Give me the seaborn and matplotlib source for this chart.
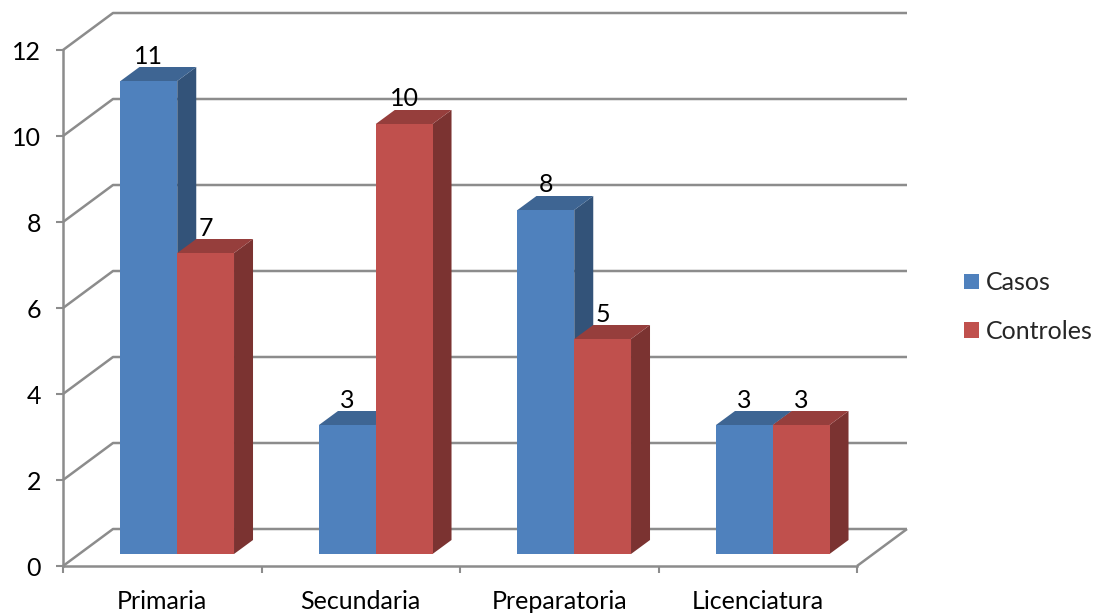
import matplotlib
matplotlib.use("Agg")
import matplotlib.pyplot as plt
from matplotlib.patches import Polygon
from matplotlib.colors import to_rgb
import pandas as pd
import seaborn as sns

niveles = ["Primaria", "Secundaria", "Preparatoria", "Licenciatura"]
casos = [11, 3, 8, 3]
controles = [7, 10, 5, 3]
series_names = ["Casos", "Controles"]
y_ticks = [0, 2, 4, 6, 8, 10, 12]

BLUE = "#4F81BD"
RED = "#C0504D"
GREY = "#8C8C8C"

sns.set_style("white")
plt.rcParams["font.family"] = ["Lato", "DejaVu Sans"]

W, H = 1094, 613
FONT = 18
fig = plt.figure(figsize=(W / 100, H / 100), dpi=100, facecolor="white")
ax = fig.add_axes([63 / W, (H - 566) / H, (857 - 63) / W, (566 - 50) / H])

df = pd.DataFrame({
    "nivel": niveles * 2,
    "valor": casos + controles,
    "serie": [series_names[0]] * 4 + [series_names[1]] * 4,
})
sns.barplot(data=df, x="nivel", y="valor", hue="serie", order=niveles,
            hue_order=series_names, palette=[BLUE, RED], width=0.572, gap=0,
            saturation=1, errorbar=None, ax=ax, zorder=4, linewidth=0)

ax.set_xlim(-0.5, 3.5)
ax.set_ylim(0, 12)
ax.set_xlabel("")
ax.set_ylabel("")

# Pixel sizes of the pseudo-3D projection, expressed in data units
px_x = 4 / (857 - 63)
px_y = 12 / (566 - 50)
wall_dx, wall_dy = 50 * px_x, 37 * px_y
bar_dx, bar_dy = 19 * px_x, 14 * px_y
shift_x, shift_y = 15 * px_x, 12 * px_y

# Back wall gridlines with their diagonals along the side wall
x0, x1 = ax.get_xlim()
line_style = dict(color=GREY, lw=1.8, clip_on=False, zorder=1,
                  solid_capstyle="butt")
for t in y_ticks:
    ax.plot([x0, x0 + wall_dx, x1 + wall_dx], [t, t + wall_dy, t + wall_dy], **line_style)
ax.plot([x1, x1 + wall_dx], [0, wall_dy], **line_style)


def shade(color, factor):
    return tuple(c * factor for c in to_rgb(color))


# Extrude every bar: side and top faces behind the shifted front face
bars = [p for p in ax.patches if p.get_height() > 0]
for bar, value in zip(bars, casos + controles):
    color = bar.get_facecolor()
    bar.set_x(bar.get_x() + shift_x)
    bar.set_y(shift_y)
    left = bar.get_x()
    right = left + bar.get_width()
    base = bar.get_y()
    top = base + bar.get_height()
    ax.add_patch(Polygon(
        [(right, base), (right + bar_dx, base + bar_dy),
         (right + bar_dx, top + bar_dy), (right, top)],
        closed=True, fc=shade(color, 0.64), ec="none", clip_on=False, zorder=2))
    ax.add_patch(Polygon(
        [(left, top), (left + bar_dx, top + bar_dy),
         (right + bar_dx, top + bar_dy), (right, top)],
        closed=True, fc=shade(color, 0.78), ec="none", clip_on=False, zorder=2))
    ax.text((left + right) / 2, top + 25 * px_y, str(value), ha="center",
            va="center", fontsize=FONT, color="black", zorder=6, clip_on=False)
    bar.set_clip_on(False)

# Front axis lines and outward ticks
sns.despine(ax=ax, top=True, right=True)
for side in ("left", "bottom"):
    ax.spines[side].set_color(GREY)
    ax.spines[side].set_linewidth(1.8)
    ax.spines[side].set_zorder(1)
ax.set_yticks(y_ticks)
ax.set_xticks([-0.5, 0.5, 1.5, 2.5, 3.5])
ax.set_xticklabels([])
ax.set_xticks([0, 1, 2, 3], labels=niveles, minor=True)
ax.tick_params(axis="y", which="major", length=5.2, width=1.5, color=GREY,
               left=True, labelsize=FONT, pad=10.5, labelcolor="black")
ax.tick_params(axis="x", which="major", length=5.2, width=1.5, color=GREY, bottom=True)
ax.tick_params(axis="x", which="minor", length=0, labelsize=FONT, pad=17, labelcolor="black")

handles, labels = ax.get_legend_handles_labels()
ax.legend(handles, labels, loc="center left", frameon=False, fontsize=FONT,
          bbox_to_anchor=((964 - 63) / (857 - 63), (566 - 307) / (566 - 50)),
          handlelength=0.6, handleheight=0.6, handletextpad=0.28,
          labelspacing=1.02, borderpad=0, borderaxespad=0)

fig.savefig("out.png", dpi=100, facecolor="white")
